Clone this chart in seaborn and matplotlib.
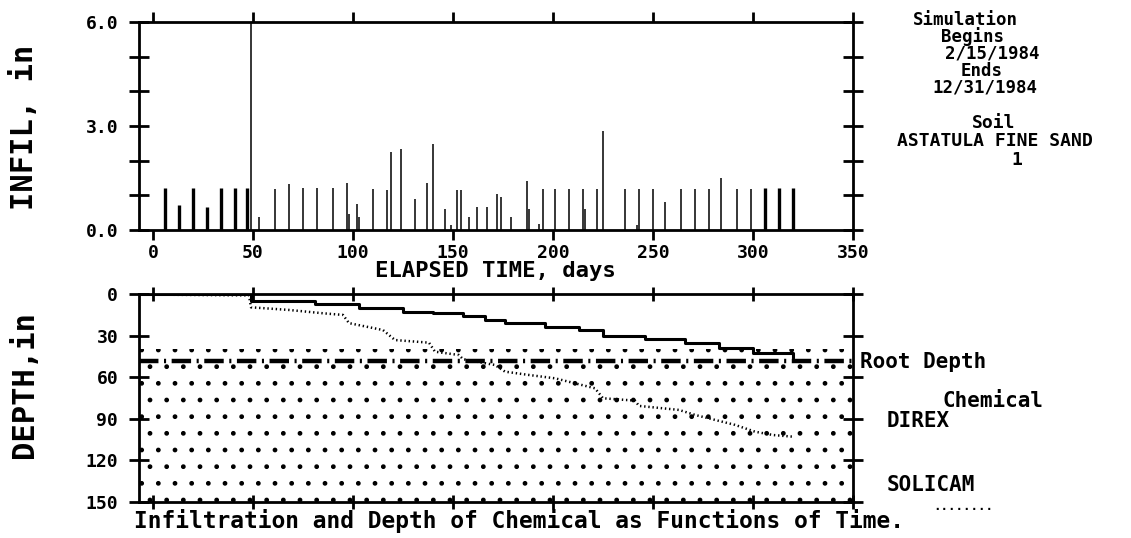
import numpy as np
import pandas as pd
import seaborn as sns
import matplotlib.pyplot as plt

sns.set_style('ticks')
plt.rcParams['font.family'] = ['DejaVu Sans Mono']
plt.rcParams['font.weight'] = 'bold'
plt.rcParams['text.color'] = 'black'
plt.rcParams['xtick.color'] = 'black'
plt.rcParams['ytick.color'] = 'black'
plt.rcParams['axes.labelcolor'] = 'black'
plt.rcParams['lines.scale_dashes'] = False
plt.rcParams['hatch.linewidth'] = 1.0
plt.rcParams['hatch.color'] = 'black'

W, H = 1131, 538

# infiltration events
infil_day = [6, 13, 20, 27, 34, 41, 47, 49, 53, 61, 68, 75, 82, 90, 97, 98, 102, 103,
             110, 117, 119, 124, 131, 137, 140, 146, 149, 152, 154, 158, 162, 167,
             172, 174, 179, 187, 188, 193, 195, 201, 208, 215, 216, 222, 225, 236,
             242, 243, 250, 256, 264, 271, 278, 284, 292, 299, 306, 313, 320]
infil_in = [1.2, 0.72, 1.2, 0.65, 1.2, 1.2, 1.2, 6.0, 0.38, 1.17, 1.32, 1.2, 1.2, 1.2,
            1.37, 0.45, 0.75, 0.38, 1.17, 1.15, 2.26, 2.33, 0.89, 1.37, 2.49, 0.6, 0.14,
            1.15, 1.15, 0.38, 0.65, 0.65, 1.04, 0.94, 0.38, 1.42, 0.6, 0.18, 1.17, 1.17,
            1.17, 1.17, 0.6, 1.17, 2.86, 1.17, 0.15, 1.17, 1.17, 0.82, 1.17, 1.17, 1.17,
            1.49, 1.17, 1.17, 1.2, 1.2, 1.2]

# depth of chemical
direx_day = [-7, 48, 49, 81, 103, 125, 140, 155, 166, 176, 196, 213, 225, 246,
             266, 283, 300, 320]
direx_depth = [0, 0, 4.8, 7.2, 10.3, 12.7, 14.0, 15.9, 18.7, 20.7, 23.6, 26.0,
               30.3, 32.7, 35.6, 39.2, 42.3, 45.9]
solicam_day = [6, 48, 49, 68, 85, 95, 98, 115, 121, 138, 141, 153, 155, 171, 176,
               188, 201, 221, 225, 241, 243, 263, 271, 291, 301, 310, 320]
solicam_depth = [0.5, 1.0, 9.6, 11.5, 13.9, 15.1, 21.0, 26.0, 33.2, 35.1, 41.6, 44.0,
                 47.0, 51.2, 56.0, 58.4, 60.8, 68.0, 75.2, 76.9, 80.7, 83.6, 87.2,
                 94.4, 99.3, 101.7, 102.9]
root_depth = 48
soil_zone = [40, 150]

x_ticks = [0, 50, 100, 150, 200, 250, 300, 350]
infil_ticks = [0, 1, 2, 3, 4, 5, 6]
infil_ticklabels = ['0.0', '', '', '3.0', '', '', '6.0']
depth_ticks = [0, 30, 60, 90, 120, 150]
xlim = (-7, 350)

fig = plt.figure(figsize=(W / 100, H / 100), dpi=100)
ax1 = fig.add_axes([139 / W, 1 - 230 / H, 714 / W, 208 / H])
ax2 = fig.add_axes([139 / W, 1 - 502 / H, 714 / W, 208 / H])

# --- top: infiltration
bold = [(d < 49) or (d > 303) for d in infil_day]
lw = [2.4 if b else 1.1 for b in bold]
ax1.vlines(infil_day, 0, infil_in, colors='black', linewidths=lw)
ax1.set_xlim(*xlim)
ax1.set_ylim(0, 6)
ax1.set_xticks(x_ticks)
ax1.set_xticklabels([str(t) for t in x_ticks], fontsize=13, fontweight='bold')
ax1.set_yticks(infil_ticks)
ax1.set_yticklabels(infil_ticklabels, fontsize=13, fontweight='bold')
ax1.tick_params(axis='x', direction='out', length=7, width=2, top=True, pad=3)
ax1.tick_params(axis='y', direction='inout', length=14, width=2, right=True, pad=8)

# --- bottom: depth of chemical
df_d = pd.DataFrame({'day': direx_day, 'depth': direx_depth})
df_s = pd.DataFrame({'day': solicam_day, 'depth': solicam_depth})
ax2.fill_between(list(xlim), soil_zone[0], soil_zone[1], facecolor='none',
                 edgecolor='black', hatch='.', linewidth=0)
ax2.axhline(root_depth, color='black', lw=3.2, linestyle=(0, (14, 4, 1.5, 4)))
sns.lineplot(data=df_d, x='day', y='depth', ax=ax2, color='black', lw=2.2,
             estimator=None, drawstyle='steps-post')
sns.lineplot(data=df_s, x='day', y='depth', ax=ax2, color='black', lw=1.8,
             estimator=None, linestyle=(0, (1, 2)))
ax2.set_xlim(*xlim)
ax2.set_ylim(150, 0)
ax2.set_xticks(x_ticks)
ax2.set_xticklabels([])
ax2.set_yticks(depth_ticks)
ax2.set_yticklabels([str(t) for t in depth_ticks], fontsize=13, fontweight='bold')
ax2.tick_params(axis='x', direction='inout', length=10, width=2, top=True)
ax2.tick_params(axis='y', direction='inout', length=14, width=2, right=True, pad=8)
ax2.set_xlabel('')
ax2.set_ylabel('')

for ax in (ax1, ax2):
    for s in ax.spines.values():
        s.set_visible(True)
        s.set_linewidth(2)
        s.set_color('black')

def ftext(x, y, s, size=16, ha='center', **kw):
    fig.text(x / W, 1 - y / H, s, ha=ha, va='center', fontsize=size,
             fontweight='bold', color='black', **kw)

ftext(25, 127, 'INFIL, in', size=22, rotation=90)
ftext(25, 385, 'DEPTH,in', size=22, rotation=90)
ftext(495, 271, 'ELAPSED TIME, days', size=16)
ftext(134, 521, 'Infiltration and Depth of Chemical as Functions of Time.', size=16.5, ha='left')

ftext(965, 20, 'Simulation', size=12.5)
ftext(973, 37, 'Begins', size=12.5)
ftext(992, 54, '2/15/1984', size=12.5)
ftext(982, 71, 'Ends', size=12.5)
ftext(985, 88, '12/31/1984', size=12.5)
ftext(994, 123, 'Soil', size=13)
ftext(995, 141, 'ASTATULA FINE SAND', size=13)
ftext(1017, 160, '1', size=13)

ftext(860, 362, 'Root Depth', size=15, ha='left')
ftext(943, 401, 'Chemical', size=15, ha='left')
ftext(887, 421, 'DIREX', size=15, ha='left')
ftext(887, 485, 'SOLICAM', size=15, ha='left')
ftext(933, 506, '........', size=9, ha='left')

fig.savefig('out.png', dpi=100)
